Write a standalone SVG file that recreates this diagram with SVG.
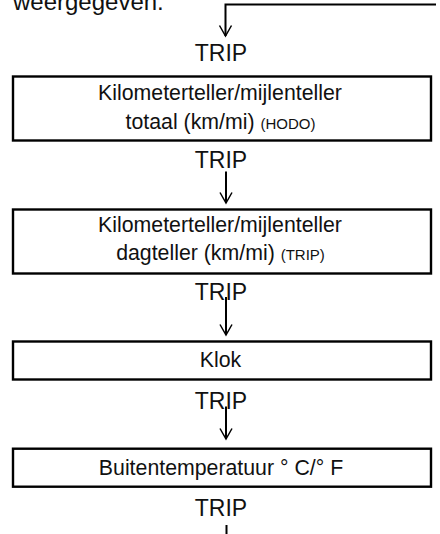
<svg xmlns="http://www.w3.org/2000/svg" width="440" height="534" viewBox="0 0 440 534">
<style>
text{font-family:"Liberation Sans",Arial,sans-serif;fill:#111}
.box{fill:#fff;stroke:#000;stroke-width:2.4}
.lbl{font-size:21.3px;text-anchor:middle}
.trip{font-size:23px;text-anchor:middle}
.sm{font-size:15px}
.conn{fill:none;stroke:#000;stroke-width:2}
</style>
<defs>
<marker id="arr" markerUnits="userSpaceOnUse" viewBox="-12 -8 13 16" refX="0" refY="0" markerWidth="13" markerHeight="16" orient="auto" overflow="visible">
<path d="M-10.5,-6 L0,0 L-10.5,6" fill="none" stroke="#000" stroke-width="1.5"/>
</marker>
</defs>
<rect width="440" height="534" fill="#fff"/>
<text x="13" y="10" style="font-size:24px">weergegeven.</text>
<g id="connectors">
<polyline class="conn" points="436,4.5 225.5,4.5 225.5,36" marker-end="url(#arr)"/>
<line class="conn" x1="226" y1="171.5" x2="226" y2="203" marker-end="url(#arr)"/>
<line class="conn" x1="226" y1="297" x2="226" y2="335" marker-end="url(#arr)"/>
<line class="conn" x1="226" y1="406.5" x2="226" y2="439" marker-end="url(#arr)"/>
<line class="conn" x1="226.5" y1="525" x2="226.5" y2="534"/>
</g>
<g id="trip1"><text class="trip" x="221" y="61">TRIP</text></g>
<g id="hodo">
<rect class="box" x="13" y="76.5" width="418" height="64"/>
<text class="lbl" x="220" y="100">Kilometerteller/mijlenteller</text>
<text class="lbl" x="220.5" y="129">totaal (km/mi) <tspan class="sm">(HODO)</tspan></text>
</g>
<g id="trip2"><text class="trip" x="221" y="168">TRIP</text></g>
<g id="dagteller">
<rect class="box" x="13" y="209.5" width="418" height="64"/>
<text class="lbl" x="220" y="232">Kilometerteller/mijlenteller</text>
<text class="lbl" x="220.5" y="260">dagteller (km/mi) <tspan class="sm">(TRIP)</tspan></text>
</g>
<g id="trip3"><text class="trip" x="221" y="300">TRIP</text></g>
<g id="klok">
<rect class="box" x="13" y="341.5" width="418" height="38"/>
<text class="lbl" x="220.5" y="366.7">Klok</text>
</g>
<g id="trip4"><text class="trip" x="221" y="408.5">TRIP</text></g>
<g id="buitentemp">
<rect class="box" x="13" y="448.7" width="418" height="38"/>
<text class="lbl" x="221" y="475">Buitentemperatuur ° C/° F</text>
</g>
<g id="trip5"><text class="trip" x="221" y="516">TRIP</text></g>
</svg>
